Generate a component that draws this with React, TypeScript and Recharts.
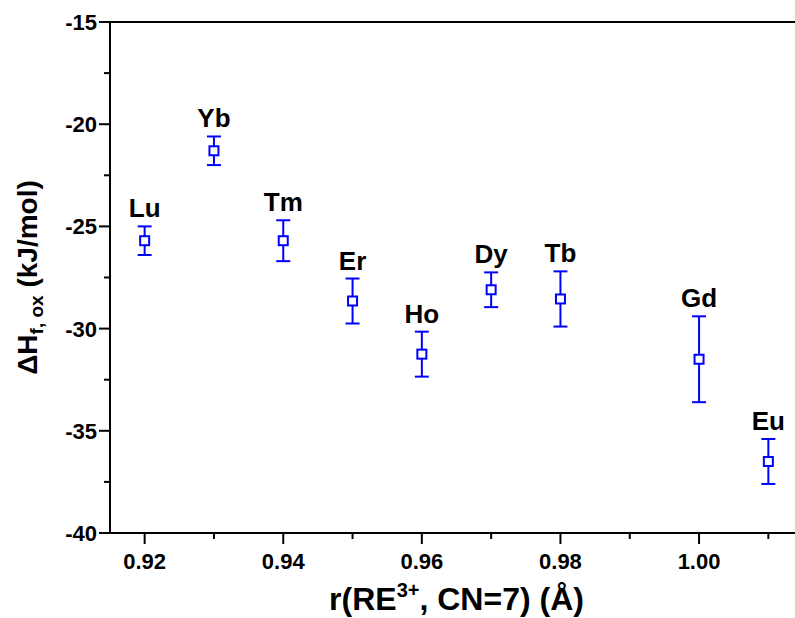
import React from 'react';
import { ScatterChart, Scatter, XAxis, YAxis, ErrorBar, Label } from 'recharts';

// ionic radius (Å), CN = 7
const radii = [0.92, 0.93, 0.94, 0.95, 0.96, 0.97, 0.98, 1.0, 1.01];
const elements = ['Lu', 'Yb', 'Tm', 'Er', 'Ho', 'Dy', 'Tb', 'Gd', 'Eu'];
// enthalpy of formation from oxides (kJ/mol) and its uncertainty
const enthalpy = [-25.7, -21.3, -25.7, -28.65, -31.25, -28.1, -28.55, -31.5, -36.5];
const errors = [0.7, 0.7, 1.0, 1.1, 1.1, 0.85, 1.35, 2.1, 1.1];

const xTicks = [0.92, 0.93, 0.94, 0.95, 0.96, 0.97, 0.98, 0.99, 1.0, 1.01];
const yTicks = [-40, -37.5, -35, -32.5, -30, -27.5, -25, -22.5, -20, -17.5, -15];

const FONT = '"Liberation Sans", Arial, Helvetica, sans-serif';
const BLUE = '#0000ff';

const points = radii.map((r, i) => ({ r, dh: enthalpy[i], err: errors[i] }));
// names sit just above the upper end of each error bar
const names = radii.map((r, i) => ({ r, dh: enthalpy[i] + errors[i], el: elements[i] }));

function XTick(props: any) {
  const { x, y, payload } = props;
  const v = payload.value as number;
  const major = Math.round(v * 100) % 2 === 0;
  return (
    <g>
      <line x1={x} x2={x} y1={y} y2={y + (major ? 11 : 6)} stroke="#000" strokeWidth={2} />
      {major && (
        <text x={x} y={y + 36} textAnchor="middle" fontFamily={FONT} fontWeight="bold" fontSize={22} fill="#000">
          {v.toFixed(2)}
        </text>
      )}
    </g>
  );
}

function YTick(props: any) {
  const { x, y, payload } = props;
  const v = payload.value as number;
  const major = v % 5 === 0;
  return (
    <g>
      <line x1={x} x2={x - (major ? 11 : 6)} y1={y} y2={y} stroke="#000" strokeWidth={2} />
      {major && (
        <text x={x - 13} y={y} dy="0.36em" textAnchor="end" fontFamily={FONT} fontWeight="bold" fontSize={22} fill="#000">
          {String(v)}
        </text>
      )}
    </g>
  );
}

function Marker(props: any) {
  const { cx, cy } = props;
  return <rect x={cx - 4.5} y={cy - 4.5} width={9} height={9} fill="#fff" stroke={BLUE} strokeWidth={2} />;
}

function ElementName(props: any) {
  const { cx, cy, payload } = props;
  return (
    <text x={cx} y={cy - 9} textAnchor="middle" fontFamily={FONT} fontWeight="bold" fontSize={26} fill="#000">
      {payload.el}
    </text>
  );
}

function XTitle(props: any) {
  const vb = props.viewBox;
  const cx = vb.x + vb.width / 2;
  return (
    <text x={cx} y={vb.y + 77} textAnchor="middle" fontFamily={FONT} fontWeight="bold" fontSize={32} fill="#000">
      <tspan>r(RE</tspan>
      <tspan dy={-13} fontSize={20}>3+</tspan>
      <tspan dy={13}>, CN=7) (Å)</tspan>
    </text>
  );
}

function YTitle(props: any) {
  const vb = props.viewBox;
  const cy = vb.y + vb.height / 2;
  const bx = 37;
  return (
    <text
      x={bx}
      y={cy}
      transform={`rotate(-90, ${bx}, ${cy})`}
      textAnchor="middle"
      fontFamily={FONT}
      fontWeight="bold"
      fontSize={28}
      fill="#000"
    >
      <tspan>ΔH</tspan>
      <tspan dy={6} fontSize={19}>f, ox</tspan>
      <tspan dy={-6}> (kJ/mol)</tspan>
    </text>
  );
}

export default function App() {
  return (
    <div style={{ position: 'absolute', left: 0, top: 0, width: 795, height: 618, overflow: 'hidden', background: '#fff' }}>
      <ScatterChart width={803} height={618} margin={{ top: 0, right: 0, bottom: 0, left: 0 }}>
        <XAxis
          xAxisId="top"
          orientation="top"
          type="number"
          dataKey="r"
          domain={[0.915, 1.015]}
          height={22}
          tick={false}
          tickLine={false}
          axisLine={{ stroke: '#000', strokeWidth: 2 }}
        />
        <XAxis
          type="number"
          dataKey="r"
          domain={[0.915, 1.015]}
          ticks={xTicks}
          interval={0}
          height={85}
          tickSize={0}
          tickMargin={0}
          tickLine={false}
          tick={<XTick />}
          axisLine={{ stroke: '#000', strokeWidth: 2 }}
        >
          <Label content={<XTitle />} />
        </XAxis>
        <YAxis
          type="number"
          dataKey="dh"
          domain={[-40, -15]}
          ticks={yTicks}
          interval={0}
          width={110}
          tickSize={0}
          tickMargin={0}
          tickLine={false}
          tick={<YTick />}
          axisLine={{ stroke: '#000', strokeWidth: 2 }}
        >
          <Label content={<YTitle />} />
        </YAxis>
        <Scatter data={points} shape={<Marker />} isAnimationActive={false}>
          <ErrorBar dataKey="err" direction="y" width={7} stroke={BLUE} strokeWidth={2} />
        </Scatter>
        <Scatter data={names} shape={<ElementName />} isAnimationActive={false} />
      </ScatterChart>
    </div>
  );
}
